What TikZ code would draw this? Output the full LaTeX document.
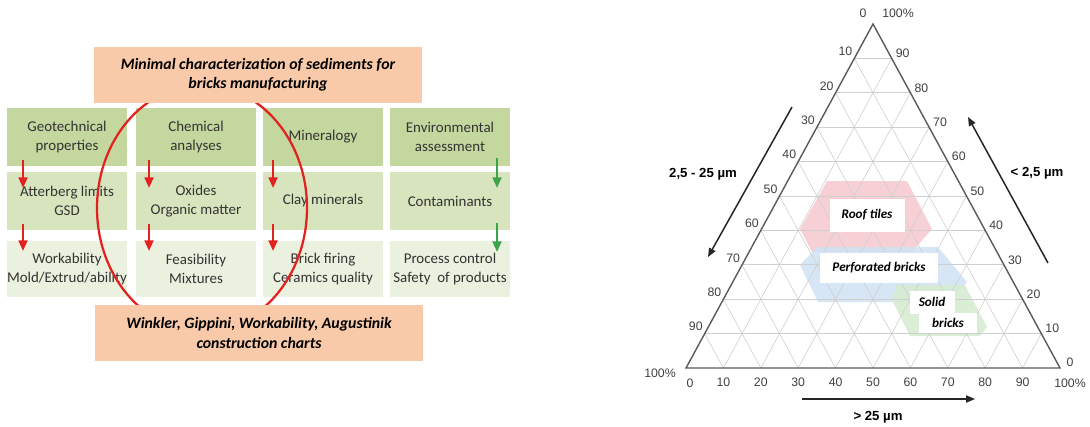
\documentclass[tikz,border=0pt]{standalone}
\usepackage{xcolor}
\usepackage{fontspec}
\setmainfont{Carlito}
\newfontfamily\arialfont{Liberation Sans}
\usepackage{tikz}
\usetikzlibrary{positioning}
\usetikzlibrary{calc}
\usetikzlibrary{arrows, arrows.meta}

\definecolor{headgreen}{HTML}{C4D79F}
\definecolor{midgreen}{HTML}{D8E4BE}
\definecolor{lowgreen}{HTML}{EBF1DF}
\definecolor{peach}{HTML}{F9CAA9}
\definecolor{arrowred}{HTML}{E3211F}
\definecolor{arrowgreen}{HTML}{3FA34D}
\definecolor{roofpink}{HTML}{F4C4CA}
\definecolor{perfblue}{HTML}{CFE2F3}
\definecolor{solidgreen}{HTML}{D6ECD2}
\definecolor{gridgray}{HTML}{CFCFCF}
\definecolor{edgegray}{HTML}{5A5A5A}

\tikzset{
  cell/.style={minimum width=24mm, minimum height=11.6mm, align=center, inner sep=0pt,
    text=black!80, font=\fontsize{8.5}{10.5}\selectfont},
  headcell/.style={cell, fill=headgreen},
  midcell/.style={cell, fill=midgreen},
  lowcell/.style={cell, fill=lowgreen, minimum height=11.2mm},
  chartbox/.style={fill=peach, minimum width=65.4mm, minimum height=11.2mm, align=center,
    font=\fontsize{9}{11}\selectfont\bfseries\itshape},
  redarrow/.style={arrowred, line width=0.45mm, -{Triangle[length=6pt, width=5pt]}},
  greenarrow/.style={arrowgreen, line width=0.45mm, -{Triangle[length=6pt, width=5pt]}},
  gridline/.style={gridgray, line width=0.35pt},
  ticklabel/.style={inner sep=1pt, text=black!75, font=\arialfont\fontsize{7}{8}\selectfont},
  axislabel/.style={inner sep=1pt, font=\arialfont\fontsize{7.5}{9}\selectfont\bfseries},
  axisarrow/.style={black!85, line width=0.3mm, -{Triangle[length=5pt, width=4pt]}},
  zonelabel/.style={fill=white, inner sep=0pt, font=\fontsize{7.5}{9}\selectfont\bfseries\itshape},
}

\begin{document}
\begin{tikzpicture}[x=0.2mm, y=-0.2mm]
  \useasboundingbox (0,0) rectangle (1090,426);

  % characterization table
  \node[headcell] (geo) at (67,137) {Geotechnical\\properties};
  \node[headcell] (chem) at (196,137) {Chemical\\analyses};
  \node[headcell] (mine) at (323,137) {Mineralogy};
  \node[headcell] (env) at (450,137) {Environmental\\assessment};

  \node[midcell] (atter) at (67,201) {Atterberg limits\\GSD};
  \node[midcell] (oxid) at (196,201) {Oxides\\Organic matter};
  \node[midcell] (clay) at (323,201) {Clay minerals};
  \node[midcell] (cont) at (450,201) {Contaminants};

  \node[lowcell] (work) at (67,269) {Workability\\Mold/Extrud/ability};
  \node[lowcell] (feas) at (196,269) {Feasibility\\Mixtures};
  \node[lowcell] (fire) at (323,269) {Brick firing\\Ceramics quality};
  \node[lowcell] (proc) at (450,269) {Process control\\Safety\ \ of products};

  % red ring behind the two chart boxes
  \draw[arrowred, line width=0.45mm] (202,208) ellipse [x radius=105, y radius=123];

  \node[chartbox] (minimal) at (258,75) {Minimal characterization of sediments for\\bricks manufacturing};
  \node[chartbox] (charts) at (259,333) {Winkler, Gippini, Workability, Augustinik\\construction charts};

  % arrows down the columns
  \foreach \x [count=\i] in {23,149,273} {
    \coordinate (ra\i) at (\x,160);
    \coordinate (rb\i) at (\x,188);
    \coordinate (rc\i) at (\x,224);
    \coordinate (rd\i) at (\x,251);
    \draw[redarrow] (ra\i) -- (rb\i);
    \draw[redarrow] (rc\i) -- (rd\i);
  }
  \coordinate (ga) at (497,158);
  \coordinate (gb) at (497,188);
  \coordinate (gc) at (497,223);
  \coordinate (gd) at (497,252);
  \draw[greenarrow] (ga) -- (gb);
  \draw[greenarrow] (gc) -- (gd);

  % ternary diagram
  \coordinate (top) at (873,24);
  \coordinate (left) at (686,368);
  \coordinate (right) at (1060,368);

  \fill[roofpink, fill opacity=0.8] (827,181) -- (907,181) -- (932,229) -- (912,252) -- (812,252) -- (800,229) -- cycle;
  \fill[perfblue, fill opacity=0.85] (817,247) -- (938,247) -- (967,282) -- (950,302) -- (818,302) -- (800,265) -- cycle;
  \fill[solidgreen, fill opacity=0.9] (897,285) -- (965,285) -- (987,327) -- (980,336) -- (910,336) -- (892,300) -- cycle;

  \foreach \k in {1,...,9} {
    \draw[gridline] ($(top)!{\k/10}!(left)$) -- ($(top)!{\k/10}!(right)$);
    \draw[gridline] ($(left)!{\k/10}!(right)$) -- ($(right)!{1-\k/10}!(top)$);
    \draw[gridline] ($(left)!{\k/10}!(right)$) -- ($(left)!{\k/10}!(top)$);
  }
  \draw[edgegray, line width=0.8pt] (top) -- (left) -- (right) -- cycle;

  \node[zonelabel, minimum width=15mm, minimum height=6.6mm] (roof) at (867,215) {Roof tiles};
  \node[zonelabel, minimum width=23.6mm, minimum height=6mm] (perf) at (879,268) {Perforated bricks};
  \node[zonelabel, minimum width=9mm, minimum height=4.6mm] (solid) at (932,302) {Solid};
  \node[zonelabel, minimum width=11.6mm, minimum height=4mm] (brk) at (948,323) {bricks};

  % scale numbers
  \foreach \k in {1,...,9} {
    \pgfmathtruncatemacro\v{10*\k}
    \pgfmathtruncatemacro\w{100-10*\k}
    \node[ticklabel, anchor=east] (lt\k) at ($(top)!{\k/10}!(left)+(0,-7)$) {\v};
    \node[ticklabel, anchor=west] (rt\k) at ($(top)!{\k/10}!(right)+(2,-5)$) {\w};
    \node[ticklabel, anchor=north] (bt\k) at ($(left)!{\k/10}!(right)+(0,8)$) {\v};
  }
  \node[ticklabel] (topzero) at (863,13) {0};
  \node[ticklabel] (topfull) at (898,13) {100\%};
  \node[ticklabel] (leftfull) at (660,373) {100\%};
  \node[ticklabel] (rightzero) at (1070,362) {0};
  \node[ticklabel] (botzero) at (690,383) {0};
  \node[ticklabel] (botfull) at (1070,383) {100\%};

  % fraction axes
  \coordinate (la1) at (792,107);
  \coordinate (la2) at (708,257);
  \draw[axisarrow] (la1) -- (la2);
  \node[axislabel] (midsize) at (703,174) {2,5 - 25 µm};

  \coordinate (rb1) at (1048,263);
  \coordinate (rb2) at (968,117);
  \draw[axisarrow] (rb1) -- (rb2);
  \node[axislabel] (finesize) at (1037,173) {< 2,5 µm};

  \coordinate (ba1) at (802,399);
  \coordinate (ba2) at (975,399);
  \draw[axisarrow] (ba1) -- (ba2);
  \node[axislabel] (coarsesize) at (878,417) {> 25 µm};
\end{tikzpicture}
\end{document}
